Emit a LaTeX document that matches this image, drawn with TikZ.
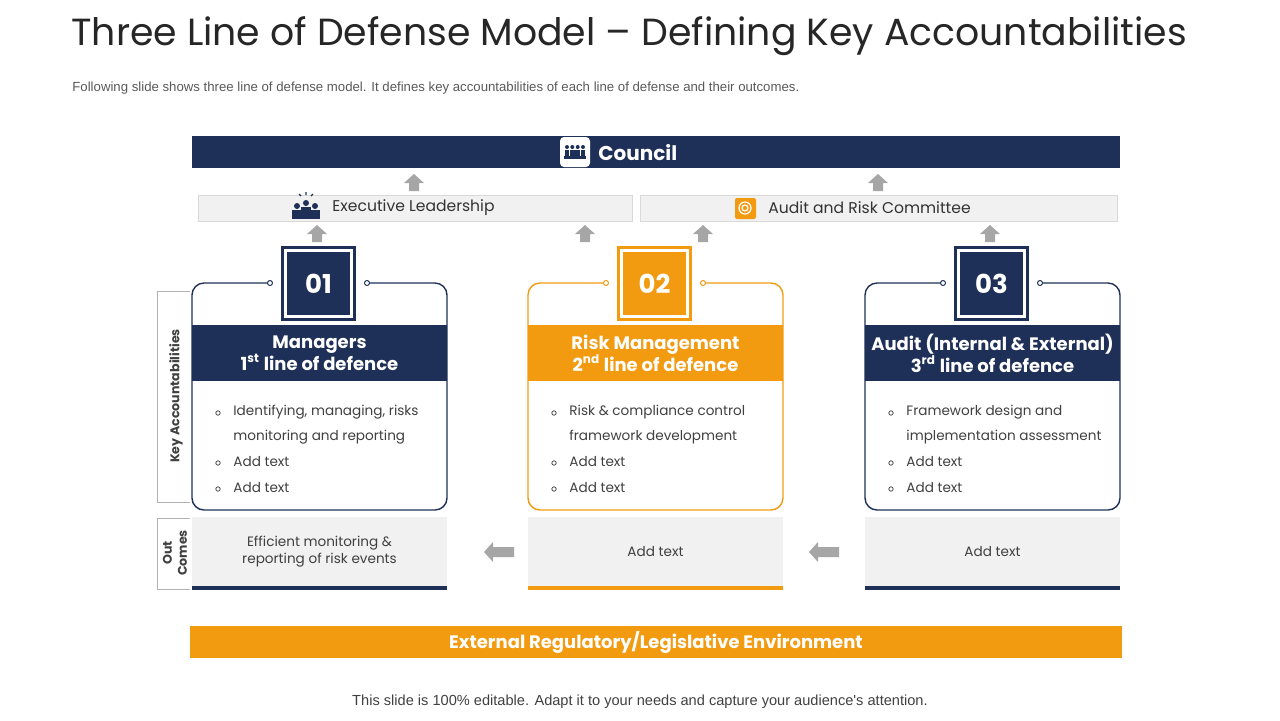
\documentclass[tikz,border=0pt]{standalone}
\usepackage{fontspec}
\setmainfont{Poppins}
\newfontfamily\arialfont{Liberation Sans}
\usetikzlibrary{arrows.meta, calc, positioning}
\definecolor{navy}{RGB}{31, 48, 88}
\definecolor{myorange}{RGB}{242, 155, 17}
\definecolor{arrowgray}{RGB}{166, 166, 166}
\definecolor{barfill}{RGB}{241, 241, 241}
\tikzset{
    bar/.style={fill=barfill, draw=black!15, line width=0.4pt, minimum height=13pt, inner sep=0},
    numbox/.style={fill=#1, minimum size=37.5pt, inner sep=0, text=white, font=\bfseries\fontsize{13}{13}\selectfont},
    headband/.style={fill=#1, minimum width=127.5pt, minimum height=28pt, inner sep=0, text=white, align=center, font=\bfseries\fontsize{9}{11}\selectfont},
    bodytext/.style={anchor=west, inner sep=0, font=\fontsize{6.8}{8}\selectfont, text=black!75},
    outbox/.style={fill=barfill, minimum width=127.5pt, minimum height=35.5pt, inner sep=0, align=center, font=\fontsize{6.8}{8.5}\selectfont, text=black!75},
    bracketlabel/.style={rotate=90, font=\bfseries\fontsize{6.3}{7.5}\selectfont, text=black!75, align=center, inner sep=0},
}
% block arrow: tail at (#1,#2), direction #3 (degrees, on the page), length #4
\newcommand{\blockarrow}[4]{%
  \fill[arrowgray, shift={(#1,#2)}, rotate=#3]
    (0,-5) -- (#4-9,-5) -- (#4-9,-10) -- (#4,0) -- (#4-9,10) -- (#4-9,5) -- (0,5) -- cycle;}
\begin{document}
\begin{tikzpicture}[x=0.5pt, y=-0.5pt]
    \useasboundingbox (0,0) rectangle (1280,720);

    % title and subtitle
    \node[anchor=west, inner sep=0, font=\fontsize{18.9}{20}\selectfont, text=black!85] (title) at (71,36)
        {Three Line of Defense Model -- Defining Key Accountabilities};
    \node[anchor=west, inner sep=0, font=\arialfont\fontsize{6.6}{7}\selectfont, text=black!65] (subtitle) at (72,88)
        {Following slide shows three line of defense model. It defines key accountabilities of each line of defense and their outcomes.};

    % 1. Council and the two committees
    \node[fill=navy, minimum width=464pt, minimum height=16pt, inner sep=0] (council) at (656,152) {};
    \node[fill=white, rounded corners=2pt, minimum size=15pt, inner sep=0] (councilicon) at (575,152) {};
    \foreach \dx in {-8,-2.7,2.7,8}{
        \fill[navy] ($(councilicon)+(\dx,-5)$) circle (2);
        \fill[navy] ($(councilicon)+(\dx-2.3,-2)$) rectangle ($(councilicon)+(\dx+2.3,6)$);}
    \fill[navy] ($(councilicon)+(-11,4)$) rectangle ($(councilicon)+(11,7)$);
    \node[anchor=west, text=white, font=\bfseries\fontsize{10}{10}\selectfont, inner sep=0] (councillabel) at (598,153) {Council};

    \node[bar, minimum width=217pt] (execbar) at (415,208) {};
    \node[bar, minimum width=238.5pt] (auditbar) at (878.5,208) {};
    \foreach \dx/\dy in {-9/3,0/0,9/3}{
        \fill[navy] (306+\dx,203+\dy) circle (3);
        \fill[navy] (301+\dx,207+\dy) rectangle (311+\dx,219);}
    \draw[navy, line width=0.6pt] (306,192) -- (306,195) (299,194) -- (301,196) (313,194) -- (311,196);
    \node[anchor=west, inner sep=0, font=\fontsize{7.8}{8}\selectfont, text=black!80] (execlabel) at (332,208) {Executive Leadership};
    \fill[myorange, rounded corners=1pt] (735,198) rectangle (756,219);
    \draw[white, line width=0.6pt] (745,208) circle (6) (745,208) circle (3);
    \node[anchor=west, inner sep=0, font=\fontsize{7.8}{8}\selectfont, text=black!80] (auditlabel) at (768,208) {Audit and Risk Committee};

    % upward arrows
    \blockarrow{414}{191}{90}{17}
    \blockarrow{878}{191}{90}{17}
    \foreach \x in {317,585,703,990}{ \blockarrow{\x}{242}{90}{17} }

    % 2. The three lines of defence
    \foreach \i/\x/\col/\head/\la/\lb in {
        1/192/navy/{Managers\\1\textsuperscript{st} line of defence}/{Identifying, managing, risks}/{monitoring and reporting},
        2/528/myorange/{Risk Management\\2\textsuperscript{nd} line of defence}/{Risk \& compliance control}/{framework development},
        3/865/navy/{Audit (Internal \& External)\\3\textsuperscript{rd} line of defence}/{Framework design and}/{implementation assessment}}{
        \draw[\col, line width=0.7pt, rounded corners=6pt]
            (\x+78,283) -- (\x,283) -- (\x,510) -- (\x+255,510) -- (\x+255,283) -- (\x+175,283);
        \draw[\col, fill=white, line width=0.5pt] (\x+78,283) circle (2.5) (\x+175,283) circle (2.5);
        \node[numbox=\col] (num\i) at (\x+126.5,283.5) {0\i};
        \draw[white, line width=1.3pt] ($(num\i.south west)+(5,-5)$) rectangle ($(num\i.north east)+(-5,5)$);
        \node[headband=\col] (head\i) at (\x+127.5,353) {\head};
        \foreach \y/\t in {412/\la, 437/\lb, 462/Add text, 488/Add text}{
            \node[bodytext] at (\x+41,\y) {\t};}
        \foreach \y in {412,462,488}{
            \draw[black!70, line width=0.4pt] (\x+26,\y+1) circle (2.2);}
        \node[outbox] (out\i) at (\x+127.5,552) {};
        \draw[\col, line width=1.6pt] (\x,588) -- (\x+255,588);
    }
    \node[font=\fontsize{6.8}{8.5}\selectfont, text=black!75, align=center] at (out1) {Efficient monitoring \&\\reporting of risk events};
    \node[font=\fontsize{6.8}{8.5}\selectfont, text=black!75] at (out2) {Add text};
    \node[font=\fontsize{6.8}{8.5}\selectfont, text=black!75] at (out3) {Add text};

    % leftward arrows between outcomes
    \blockarrow{514}{552}{180}{30}
    \blockarrow{839}{552}{180}{30}

    % 3. Side brackets
    \draw[black!30, line width=0.5pt] (190,291) -- (157,291) -- (157,502) -- (190,502);
    \node[bracketlabel] (keylabel) at (176,396) {Key Accountabilities};
    \draw[black!30, line width=0.5pt] (190,518) -- (157,518) -- (157,589) -- (190,589);
    \node[bracketlabel] (outlabel) at (175,553) {Out\\Comes};

    % 4. External environment
    \node[fill=myorange, minimum width=466pt, minimum height=16pt, inner sep=0, text=white,
        font=\bfseries\fontsize{9}{9}\selectfont] (external) at (656,642) {External Regulatory/Legislative Environment};

    \node[font=\arialfont\fontsize{7.3}{8}\selectfont, text=black!75, inner sep=0] (footer) at (640,702)
        {This slide is 100\% editable. Adapt it to your needs and capture your audience's attention.};
\end{tikzpicture}
\end{document}
